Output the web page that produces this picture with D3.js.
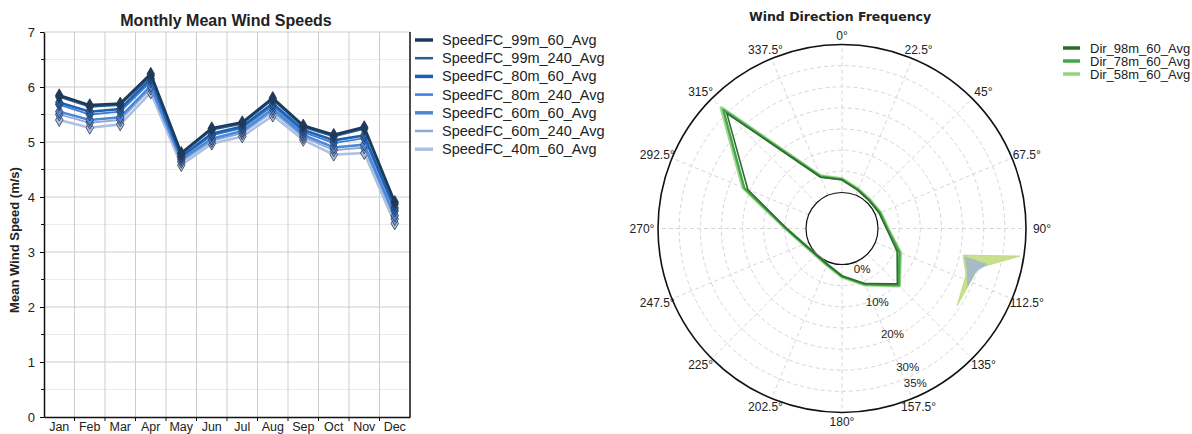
<!DOCTYPE html>
<html>
<head>
<meta charset="utf-8">
<script src="https://cdn.jsdelivr.net/npm/d3@7"></script>
<style>
  body { margin: 0; background: #fff; }
  text { font-family: Arial, "Liberation Sans", sans-serif; fill: #222; }
</style>
</head>
<body>
<div id="plot"></div>
<script>
// monthly speeds
let months = ['Jan','Feb','Mar','Apr','May','Jun','Jul','Aug','Sep','Oct','Nov','Dec'];
let speedNames = ['SpeedFC_99m_60_Avg','SpeedFC_99m_240_Avg','SpeedFC_80m_60_Avg','SpeedFC_80m_240_Avg',
                  'SpeedFC_60m_60_Avg','SpeedFC_60m_240_Avg','SpeedFC_40m_60_Avg'];
let speedColors = ['#1b3b5e','#2c5d8f','#2060b0','#3480dc','#4b88d6','#8ca9d8','#adc0e2'];
let speed99_60  = [5.85,5.67,5.70,6.24,4.80,5.25,5.36,5.80,5.30,5.13,5.27,3.91];
let speed99_240 = [5.82,5.64,5.67,6.20,4.78,5.22,5.33,5.77,5.27,5.10,5.24,3.87];
let speed80_60  = [5.72,5.55,5.60,6.15,4.74,5.15,5.28,5.70,5.22,5.03,5.12,3.80];
let speed80_240 = [5.68,5.50,5.55,6.10,4.72,5.12,5.25,5.66,5.18,4.98,5.07,3.75];
let speed60_60  = [5.55,5.40,5.45,6.02,4.68,5.06,5.20,5.60,5.13,4.90,4.95,3.66];
let speed60_240 = [5.50,5.35,5.40,5.97,4.64,5.02,5.16,5.55,5.09,4.85,4.90,3.60];
let speed40_60  = [5.40,5.26,5.32,5.90,4.58,4.97,5.10,5.48,5.04,4.77,4.80,3.52];
let speedSeries = [speed99_60,speed99_240,speed80_60,speed80_240,speed60_60,speed60_240,speed40_60];

// wind direction frequency (%)
let directions = [0,22.5,45,67.5,90,112.5,135,157.5,180,202.5,225,247.5,270,292.5,315,337.5];
let dirLabels = ['0°','22.5°','45°','67.5°','90°','112.5°','135°','157.5°','180°','202.5°','225°','247.5°','270°','292.5°','315°','337.5°'];
let dirNames = ['Dir_98m_60_Avg','Dir_78m_60_Avg','Dir_58m_60_Avg'];
let dirColors = ['#2f6b31','#45a64a','#93d483'];
let dir98 = [3.0,1.3,0.7,1.0,2.0,5.6,10.0,5.6,2.7,0.6,0.2,1.2,4.6,15.6,30.0,4.6];
let dir78 = [3.1,1.4,0.8,1.2,2.2,6.2,10.5,5.8,2.8,0.7,0.2,1.2,4.7,16.5,31.2,4.8];
let dir58 = [3.2,1.5,0.9,1.3,2.3,6.4,10.6,5.9,2.9,0.8,0.3,1.3,4.8,16.8,31.8,4.9];
let dirSeries = [dir98,dir78,dir58];
let pctTicks = [0,10,20,30,35];
let pctRings = [5,10,15,20,25,30];
// small filled patch near 100-125 deg: [angle, pct]
let patchGreen = [[102.4,20.8],[98.8,34.1],[106.2,25.0],[124.0,24.3],[110.6,22.8]];
let patchBlue  = [[102.8,21.2],[103.8,27.0],[108.0,24.8],[115.5,24.3],[108.5,22.6]];

let svg = d3.select('#plot').append('svg')
            .attr('width',1192)
            .attr('height',434);

// ---------- left: line chart ----------
let x = d3.scaleBand().domain(months).range([44,410]);
let y = d3.scaleLinear().domain([0,7]).range([417,32]);
let left = svg.append('g');

left.append('g').selectAll('line')
    .data(d3.range(0.5,7,1))
    .enter().append('line')
    .attr('x1',44).attr('x2',410)
    .attr('y1',d=>y(d)).attr('y2',d=>y(d))
    .attr('stroke','#ebebeb');
left.append('g').selectAll('line')
    .data(d3.range(1,8))
    .enter().append('line')
    .attr('x1',44).attr('x2',410)
    .attr('y1',d=>y(d)).attr('y2',d=>y(d))
    .attr('stroke','#cdcdcd');
left.append('g').selectAll('line')
    .data(months.slice(1))
    .enter().append('line')
    .attr('x1',d=>x(d)).attr('x2',d=>x(d))
    .attr('y1',y(0)).attr('y2',y(7))
    .attr('stroke','#cdcdcd');

let yAxis = left.append('g')
    .attr('transform','translate(44,0)')
    .call(d3.axisLeft(y).ticks(7).tickSize(4).tickPadding(5).tickSizeOuter(0));
yAxis.selectAll('text').style('font-size','13px');
yAxis.select('.domain').attr('stroke','#111').attr('stroke-width',1.5);
left.append('g').selectAll('line')
    .data(d3.range(0.5,7,1))
    .enter().append('line')
    .attr('x1',41).attr('x2',44)
    .attr('y1',d=>y(d)).attr('y2',d=>y(d))
    .attr('stroke','#111');

let xAxis = left.append('g')
    .attr('transform','translate(0,417)')
    .call(d3.axisBottom(x).tickSize(0).tickPadding(5).tickSizeOuter(0));
xAxis.selectAll('text').style('font-size','12.5px');
xAxis.select('.domain').attr('stroke','#111').attr('stroke-width',1.5);
left.append('g').selectAll('line')
    .data(months.slice(1))
    .enter().append('line')
    .attr('x1',d=>x(d)).attr('x2',d=>x(d))
    .attr('y1',417).attr('y2',421)
    .attr('stroke','#111');
left.append('line')
    .attr('x1',410).attr('x2',410).attr('y1',y(0)).attr('y2',y(7))
    .attr('stroke','#111').attr('stroke-width',1.5);

let line = d3.line()
    .x((d,i)=>x(months[i]) + x.bandwidth()/2)
    .y(d=>y(d));
let diamond = d3.symbol().type(d3.symbolDiamond).size(48);

for (let s = speedSeries.length-1; s >= 0; s--) {
    left.append('path')
        .datum(speedSeries[s])
        .attr('d',line)
        .attr('fill','none')
        .attr('stroke',speedColors[s])
        .attr('stroke-width',s%2==0 ? 2.6 : 1.8);
    left.append('g').selectAll('path')
        .data(speedSeries[s])
        .enter().append('path')
        .attr('d',diamond)
        .attr('transform',(d,i)=>`translate(${x(months[i])+x.bandwidth()/2},${y(d)})`)
        .attr('fill',speedColors[s])
        .attr('stroke','#2a3550')
        .attr('stroke-width',0.8);
}

left.append('text')
    .attr('x',226).attr('y',26)
    .attr('text-anchor','middle')
    .style('font-size','16px').style('font-weight','bold')
    .text('Monthly Mean Wind Speeds');
left.append('text')
    .attr('transform','translate(19,240) rotate(-90)')
    .attr('text-anchor','middle')
    .style('font-size','13px').style('font-weight','bold')
    .text('Mean Wind Speed (m/s)');

let legL = left.append('g').selectAll('g')
    .data(speedNames)
    .enter().append('g')
    .attr('transform',(d,i)=>`translate(415,${40+i*18.2})`);
legL.append('line')
    .attr('x1',0).attr('x2',18)
    .attr('stroke',(d,i)=>speedColors[i])
    .attr('stroke-width',(d,i)=>i%2==0 ? 3.5 : 2.5);
legL.append('text')
    .attr('x',27).attr('dy','0.35em')
    .style('font-size','14.5px')
    .text(d=>d);

// ---------- right: polar chart ----------
let cx = 842, cy = 228.5;
let r = d3.scaleLinear().domain([0,35]).range([36,184]);
let rad = a => a*Math.PI/180;
let polar = svg.append('g').attr('transform',`translate(${cx},${cy})`);

polar.append('g').selectAll('circle')
    .data(pctRings)
    .enter().append('circle')
    .attr('r',d=>r(d))
    .attr('fill','none')
    .attr('stroke','#d6d6d6')
    .attr('stroke-dasharray','4,3');
polar.append('g').selectAll('line')
    .data(directions)
    .enter().append('line')
    .attr('x1',d=>r(0)*Math.sin(rad(d))).attr('y1',d=>-r(0)*Math.cos(rad(d)))
    .attr('x2',d=>r(35)*Math.sin(rad(d))).attr('y2',d=>-r(35)*Math.cos(rad(d)))
    .attr('stroke','#d6d6d6')
    .attr('stroke-dasharray','4,3');
polar.append('circle').attr('r',r(0)).attr('fill','none').attr('stroke','#111').attr('stroke-width',1.2);
polar.append('circle').attr('r',r(35)).attr('fill','none').attr('stroke','#111').attr('stroke-width',1.6);

let patch = d3.lineRadial()
    .angle(d=>rad(d[0]))
    .radius(d=>r(d[1]))
    .curve(d3.curveLinearClosed);
polar.append('path').attr('d',patch(patchGreen)).attr('fill','#c8df8e').attr('stroke','#bcd682').attr('stroke-width',0.8);
polar.append('path').attr('d',patch(patchBlue)).attr('fill','#9db3d2').attr('opacity',0.8);

let radar = d3.lineRadial()
    .angle((d,i)=>rad(directions[i]))
    .radius(d=>r(d))
    .curve(d3.curveLinearClosed);
let widths = [1.6,2.4,3.6];
for (let s = dirSeries.length-1; s >= 0; s--) {
    polar.append('path')
        .datum(dirSeries[s])
        .attr('d',radar)
        .attr('fill','none')
        .attr('stroke',dirColors[s])
        .attr('stroke-width',widths[s])
        .attr('stroke-linejoin','round')
        .attr('opacity',s==2 ? 0.9 : 1);
}

polar.append('g').selectAll('text')
    .data(directions)
    .enter().append('text')
    .attr('x',d=>200*Math.sin(rad(d)))
    .attr('y',d=>-193*Math.cos(rad(d)))
    .attr('text-anchor','middle')
    .attr('dy','0.35em')
    .style('font-size','12px')
    .text((d,i)=>dirLabels[i]);

polar.append('g').selectAll('text')
    .data(pctTicks)
    .enter().append('text')
    .attr('x',d=>(0.85*r(d)+17)*Math.sin(rad(155)))
    .attr('y',d=>-(0.85*r(d)+14)*Math.cos(rad(155)))
    .attr('text-anchor','middle')
    .attr('dy','0.35em')
    .style('font-size','11.5px')
    .text(d=>d+'%');

svg.append('text')
    .attr('x',840).attr('y',21)
    .attr('text-anchor','middle')
    .style('font-family','"DejaVu Sans", sans-serif')
    .style('font-size','12.5px').style('font-weight','bold')
    .text('Wind Direction Frequency');

let legR = svg.append('g').selectAll('g')
    .data(dirNames)
    .enter().append('g')
    .attr('transform',(d,i)=>`translate(1063,${48+i*13})`);
legR.append('line')
    .attr('x1',0).attr('x2',17)
    .attr('stroke',(d,i)=>dirColors[i])
    .attr('stroke-width',3.5);
legR.append('text')
    .attr('x',27).attr('dy','0.35em')
    .style('font-size','13px')
    .text(d=>d);
</script>
</body>
</html>
